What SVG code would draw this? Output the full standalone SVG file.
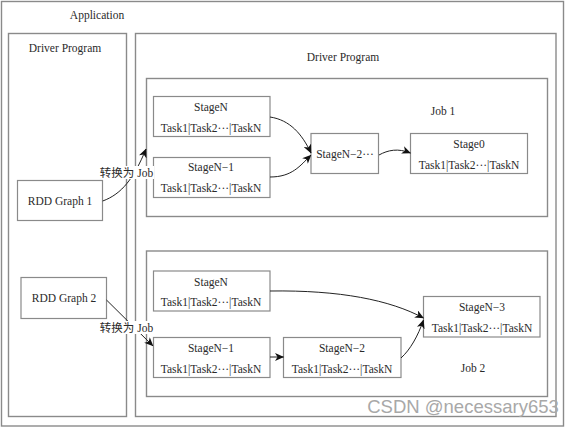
<svg xmlns="http://www.w3.org/2000/svg" width="566" height="428" viewBox="0 0 566 428">
<style>
.box{fill:#fff;stroke:#8a8a8a;stroke-width:1.2}
.frame{fill:none;stroke:#8a8a8a;stroke-width:1.4}
.t{font-family:'Liberation Serif','Times New Roman',serif;font-size:11.5px;fill:#2a2a2a;text-anchor:middle}
.lbl{font-family:'Liberation Serif','Noto Sans CJK SC',serif;font-size:11.5px;fill:#2a2a2a;text-anchor:middle}
.c{fill:none;stroke:#222;stroke-width:1}
</style>
<defs>
<marker id="ah" markerWidth="9" markerHeight="8" refX="8.5" refY="4" orient="auto" markerUnits="userSpaceOnUse">
<path d="M0,0 L9,4 L0,8 L2.5,4 Z" fill="#111"/>
</marker>
</defs>
<rect width="566" height="428" fill="#fff"/>
<g id="application">
<rect class="frame" x="1.5" y="1.5" width="562" height="424.5"/>
<text class="t" x="97" y="19">Application</text>
</g>
<g id="driver-left">
<rect class="frame" x="8.5" y="33.5" width="118" height="383"/>
<text class="t" x="65" y="52">Driver Program</text>
</g>
<g id="driver-right">
<rect class="frame" x="135.5" y="33.5" width="420.5" height="383"/>
<text class="t" x="343" y="61">Driver Program</text>
</g>
<g id="job1">
<rect class="frame" x="146.5" y="78.5" width="401" height="138"/>
<text class="t" x="443" y="115">Job 1</text>
</g>
<g id="job2">
<rect class="frame" x="146.5" y="251" width="401" height="145.5"/>
<text class="t" x="473" y="372">Job 2</text>
</g>
<g id="rdd1">
<rect class="box" x="17.5" y="180.5" width="85" height="40"/>
<text class="t" x="60" y="205">RDD Graph 1</text>
</g>
<g id="rdd2">
<rect class="box" x="21" y="277.5" width="85.5" height="41"/>
<text class="t" x="64" y="302">RDD Graph 2</text>
</g>
<g id="j1-stageN">
<rect class="box" x="153.5" y="96.5" width="116.5" height="40"/>
<text class="t" x="211" y="111">StageN</text>
<text class="t" x="211" y="132">Task1|Task2···|TaskN</text>
</g>
<g id="j1-stageN-1">
<rect class="box" x="153.5" y="157.5" width="116.5" height="40"/>
<text class="t" x="211" y="171">StageN−1</text>
<text class="t" x="211" y="192">Task1|Task2···|TaskN</text>
</g>
<g id="j1-stageN-2">
<rect class="box" x="311" y="133.5" width="67.5" height="40"/>
<text class="t" x="345" y="158">StageN−2···</text>
</g>
<g id="j1-stage0">
<rect class="box" x="410.5" y="133.5" width="117" height="40"/>
<text class="t" x="469" y="148">Stage0</text>
<text class="t" x="469" y="169">Task1|Task2···|TaskN</text>
</g>
<g id="j2-stageN">
<rect class="box" x="153.5" y="271" width="116.5" height="40"/>
<text class="t" x="211" y="286">StageN</text>
<text class="t" x="211" y="306">Task1|Task2···|TaskN</text>
</g>
<g id="j2-stageN-1">
<rect class="box" x="153.5" y="337.5" width="116.5" height="40"/>
<text class="t" x="211" y="352">StageN−1</text>
<text class="t" x="211" y="373">Task1|Task2···|TaskN</text>
</g>
<g id="j2-stageN-2">
<rect class="box" x="283.5" y="337.5" width="117.5" height="40"/>
<text class="t" x="342" y="352">StageN−2</text>
<text class="t" x="342" y="373">Task1|Task2···|TaskN</text>
</g>
<g id="j2-stageN-3">
<rect class="box" x="423.5" y="296.5" width="116.5" height="40.5"/>
<text class="t" x="482" y="311">StageN−3</text>
<text class="t" x="482" y="332">Task1|Task2···|TaskN</text>
</g>
<g id="connectors">
<path class="c" d="M102.7,201 C122,194 134,178 146,149" marker-end="url(#ah)"/>
<path class="c" d="M270,117 C290,120 302,134 311,153" marker-end="url(#ah)"/>
<path class="c" d="M270,177 C292,177 300,166 311,155" marker-end="url(#ah)"/>
<path class="c" d="M379,155 C388,150 398,148 410.5,153" marker-end="url(#ah)"/>
<path class="c" d="M106.5,300 L153,346" marker-end="url(#ah)"/>
<path class="c" d="M270,291 C340,290 390,300 423.5,318" marker-end="url(#ah)"/>
<path class="c" d="M270,357 L283.5,357" marker-end="url(#ah)"/>
<path class="c" d="M401,358 C410,350 418,336 423.5,320" marker-end="url(#ah)"/>
<rect x="99" y="166" width="55" height="13" fill="#fff"/>
<text class="lbl" x="126.5" y="177">转换为 Job</text>
<rect x="99" y="321" width="55" height="13" fill="#fff"/>
<text class="lbl" x="126.5" y="332">转换为 Job</text>
</g>
<text x="463" y="413" font-family="Liberation Sans, Arial, sans-serif" font-size="18.5" fill="#a8a8a8" text-anchor="middle">CSDN @necessary653</text>
</svg>
